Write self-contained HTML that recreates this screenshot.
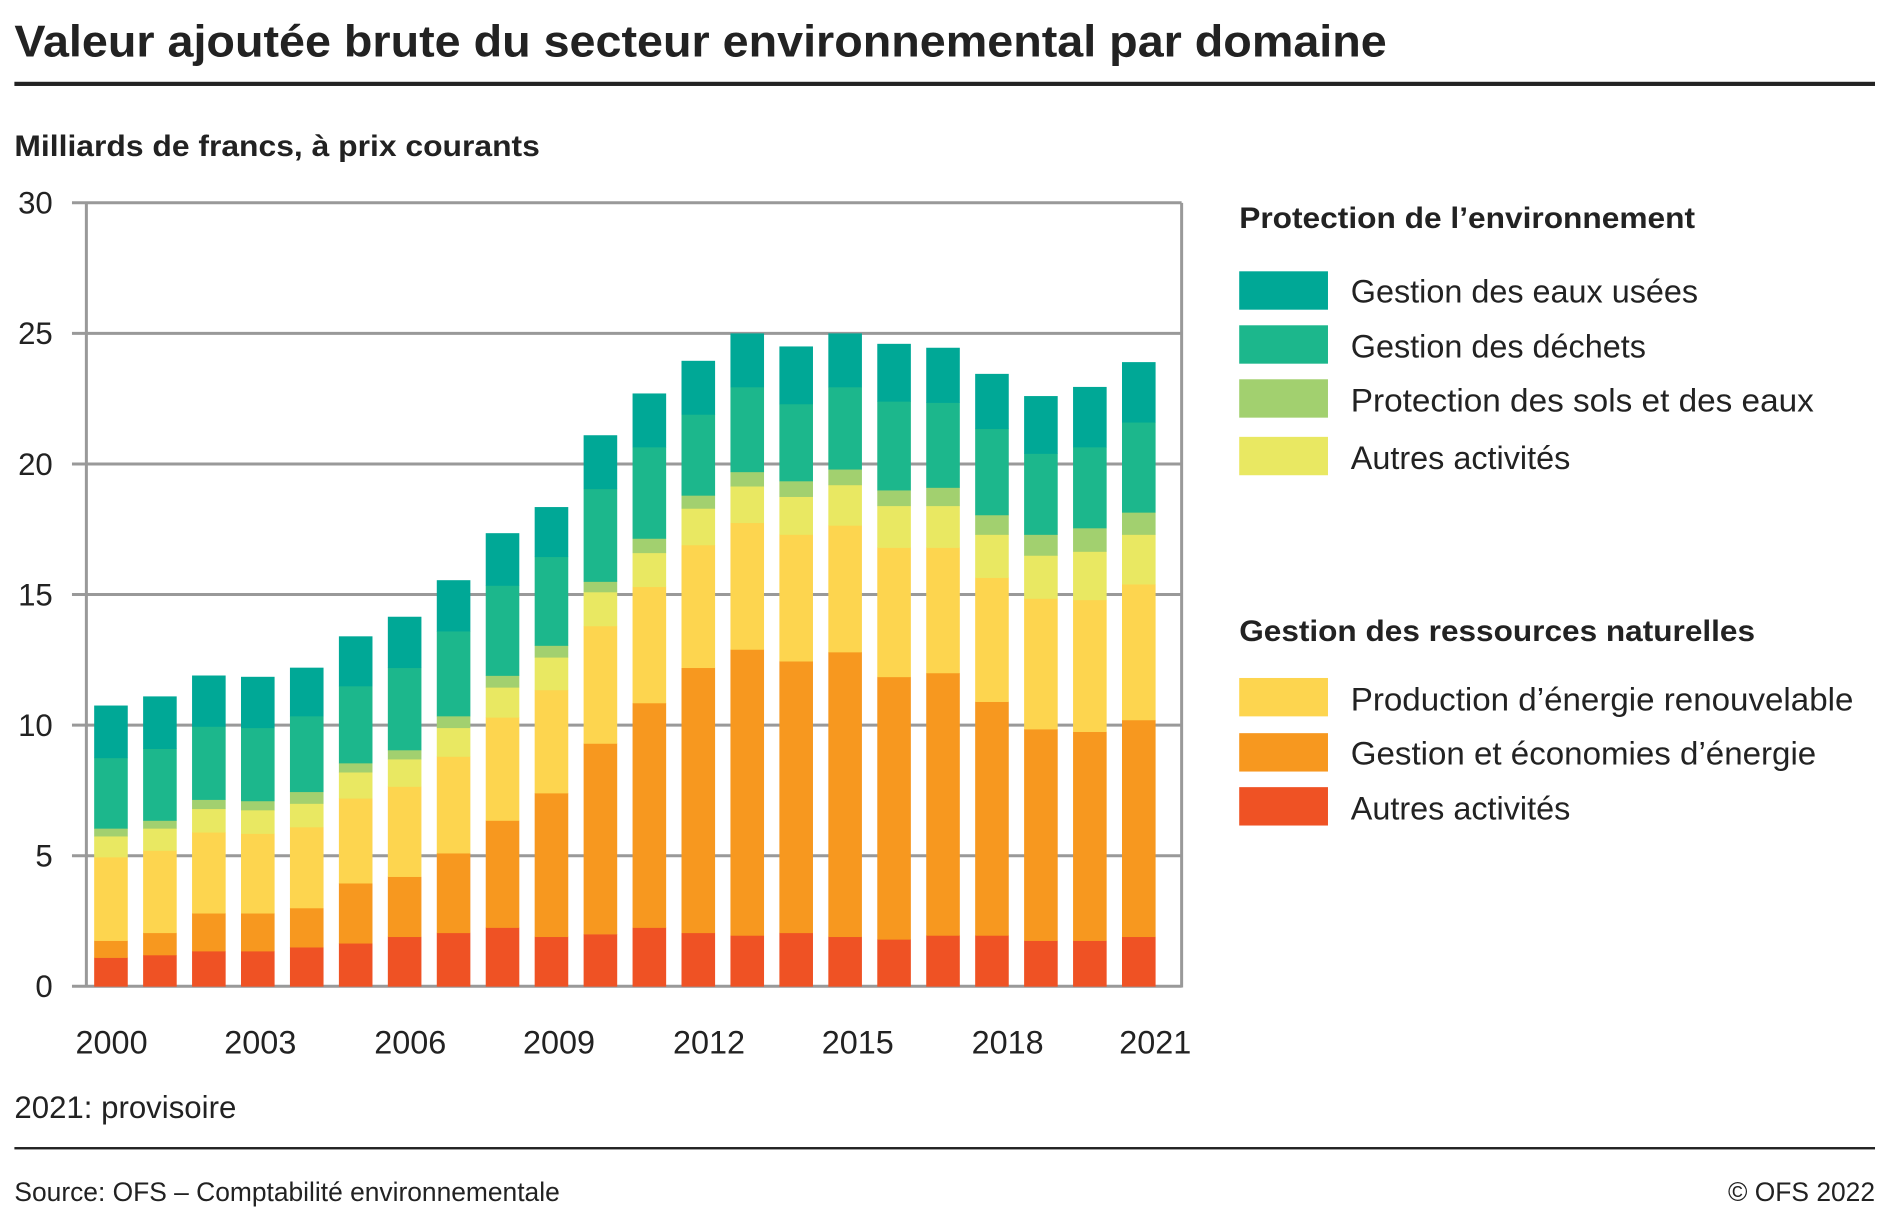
<!DOCTYPE html>
<html><head><meta charset="utf-8"><style>
html,body{margin:0;padding:0;background:#fff;}
svg{display:block;}
text{font-family:"Liberation Sans",sans-serif;fill:#222;}
</style></head><body>
<svg id="s" width="1881" height="1224" viewBox="0 0 1568 1020" xmlns="http://www.w3.org/2000/svg">
<text x="12" y="47" font-size="37" font-weight="bold" textLength="1144" lengthAdjust="spacingAndGlyphs">Valeur ajoutée brute du secteur environnemental par domaine</text>
<rect x="12" y="68" width="1551" height="3.5" fill="#222"/>
<text x="12" y="130" font-size="25" font-weight="bold" fill="#222" textLength="438" lengthAdjust="spacingAndGlyphs">Milliards de francs, à prix courants</text>
<g id="grid" stroke="#999" stroke-width="2.5"></g>
<g id="bars"></g>
<g id="axes" stroke="#999" stroke-width="2.5">
<line x1="72" y1="169" x2="72" y2="823"/>
<line x1="985" y1="169" x2="985" y2="823"/>
</g>
<g id="ylab" font-size="26" text-anchor="end"></g>
<g font-size="27" text-anchor="middle">
<text x="93" y="878">2000</text><text x="217" y="878">2003</text><text x="342" y="878">2006</text><text x="466" y="878">2009</text><text x="591" y="878">2012</text><text x="715" y="878">2015</text><text x="840" y="878">2018</text><text x="963" y="878">2021</text>
</g>
<text x="12" y="932" font-size="26">2021: provisoire</text>
<rect x="12" y="956" width="1551" height="2" fill="#222"/>
<text x="12" y="1001" font-size="22" fill="#333">Source: OFS – Comptabilité environnementale</text>
<text x="1563" y="1001" font-size="22" text-anchor="end" fill="#333">© OFS 2022</text>
<text x="1033" y="190" font-size="25" font-weight="bold" textLength="380" lengthAdjust="spacingAndGlyphs">Protection de l’environnement</text>
<text x="1033" y="534" font-size="25" font-weight="bold" textLength="430" lengthAdjust="spacingAndGlyphs">Gestion des ressources naturelles</text>
<rect x="1033" y="226" width="74" height="32" fill="#00a896"/>
<rect x="1033" y="271" width="74" height="32" fill="#1cb78c"/>
<rect x="1033" y="316" width="74" height="32" fill="#a2d06f"/>
<rect x="1033" y="364" width="74" height="32" fill="#e9e862"/>
<rect x="1033" y="565" width="74" height="32" fill="#fdd54f"/>
<rect x="1033" y="611" width="74" height="32" fill="#f7981f"/>
<rect x="1033" y="656" width="74" height="32" fill="#ef5224"/>
<g font-size="27" fill="#333">
<text x="1126" y="252">Gestion des eaux usées</text>
<text x="1126" y="298">Gestion des déchets</text>
<text x="1126" y="343" textLength="386" lengthAdjust="spacingAndGlyphs">Protection des sols et des eaux</text>
<text x="1126" y="391">Autres activités</text>
<text x="1126" y="592" textLength="419" lengthAdjust="spacingAndGlyphs">Production d’énergie renouvelable</text>
<text x="1126" y="637" textLength="388" lengthAdjust="spacingAndGlyphs">Gestion et économies d’énergie</text>
<text x="1126" y="683">Autres activités</text>
</g>
</svg>
<script>
var NS="http://www.w3.org/2000/svg";
function el(t,a,p){var e=document.createElementNS(NS,t);for(var k in a)e.setAttribute(k,a[k]);document.getElementById(p).appendChild(e);return e;}
var y0=822,k=21.77;
for(var v=0;v<=30;v+=5){var y=y0-v*k;el("line",{x1:60,y1:y,x2:985,y2:y},"grid");var t=el("text",{x:44,y:y+9},"ylab");t.textContent=v;}
var cols=["#ef5224","#f7981f","#fdd54f","#e9e862","#a2d06f","#1cb78c","#00a896"];
var d=[
[1.1,1.75,4.95,5.75,6.05,8.75,10.75],
[1.2,2.05,5.2,6.05,6.35,9.1,11.1],
[1.35,2.8,5.9,6.8,7.15,9.95,11.9],
[1.35,2.8,5.85,6.75,7.1,9.9,11.85],
[1.5,3.0,6.1,7.0,7.45,10.35,12.2],
[1.65,3.95,7.2,8.2,8.55,11.5,13.4],
[1.9,4.2,7.65,8.7,9.05,12.2,14.15],
[2.05,5.1,8.8,9.9,10.35,13.6,15.55],
[2.25,6.35,10.3,11.45,11.9,15.35,17.35],
[1.9,7.4,11.35,12.6,13.05,16.45,18.35],
[2.0,9.3,13.8,15.1,15.5,19.05,21.1],
[2.25,10.85,15.3,16.6,17.15,20.65,22.7],
[2.05,12.2,16.9,18.3,18.8,21.9,23.95],
[1.95,12.9,17.75,19.15,19.7,22.95,25.0],
[2.05,12.45,17.3,18.75,19.35,22.3,24.5],
[1.9,12.8,17.65,19.2,19.8,22.95,25.0],
[1.8,11.85,16.8,18.4,19.0,22.4,24.6],
[1.95,12.0,16.8,18.4,19.1,22.35,24.45],
[1.95,10.9,15.65,17.3,18.05,21.35,23.45],
[1.75,9.85,14.85,16.5,17.3,20.4,22.6],
[1.75,9.75,14.8,16.65,17.55,20.65,22.95],
[1.9,10.2,15.4,17.3,18.15,21.6,23.9]];
for(var i=0;i<22;i++){var cx=92.5+i*40.8;var prev=0;for(var j=0;j<7;j++){var a=d[i][j];el("rect",{x:cx-14,y:y0-a*k,width:28,height:(a-prev)*k+0.3,fill:cols[j]},"bars");prev=a;}}
</script>
</body></html>
